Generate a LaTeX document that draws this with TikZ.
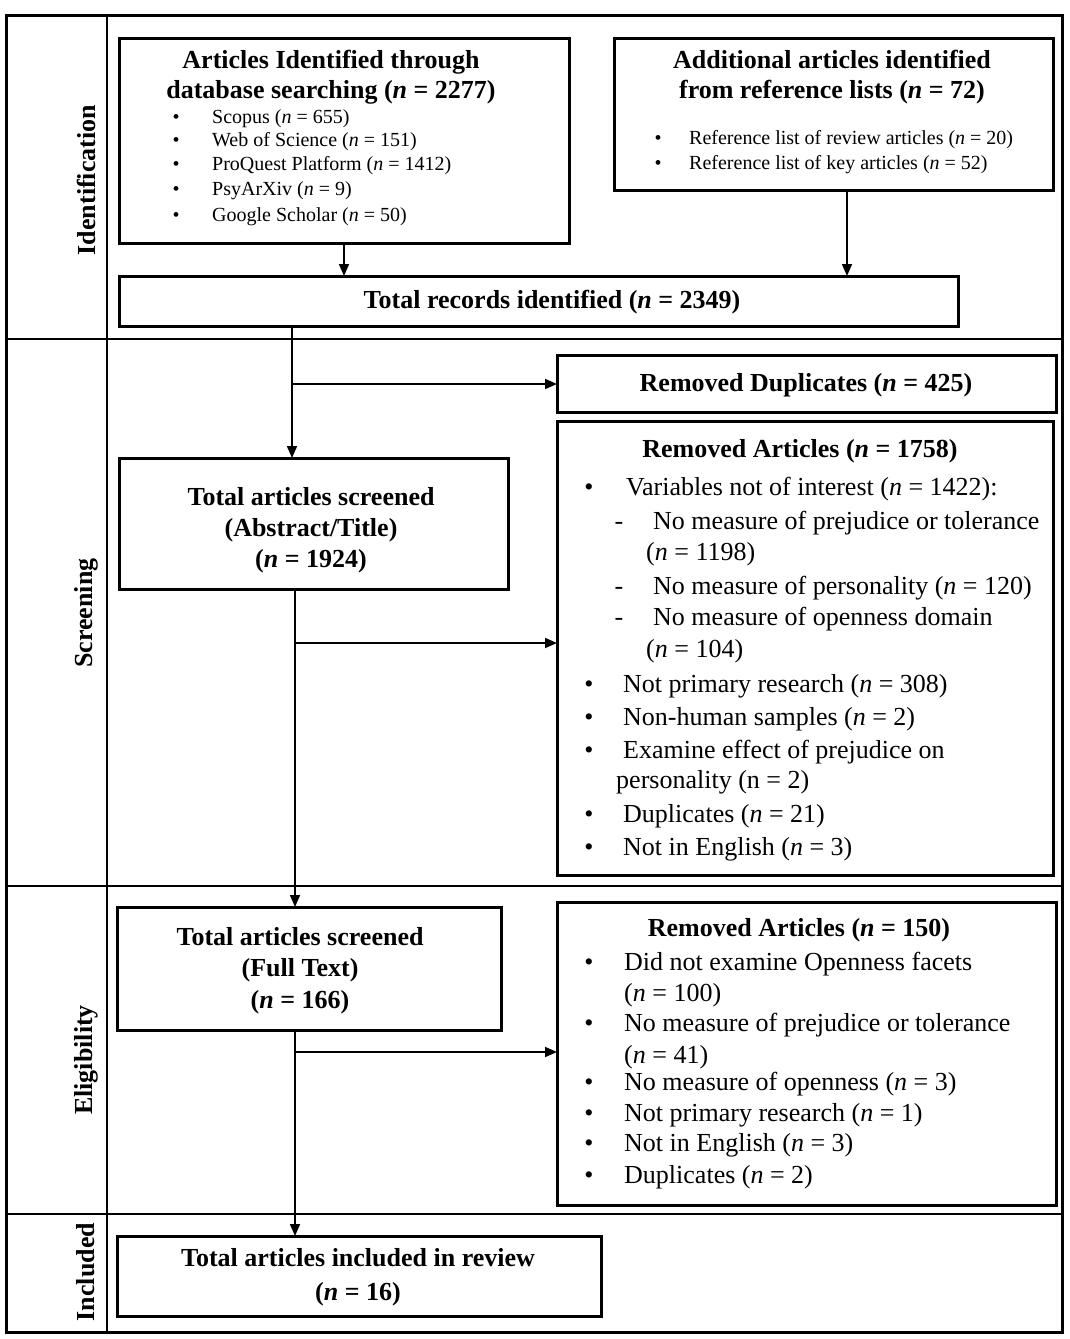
\documentclass[tikz,border=0pt]{standalone}
\usepackage{fontspec}
\setmainfont{Liberation Serif}
\usetikzlibrary{arrows.meta}
\begin{document}
\begin{tikzpicture}[x=1pt,y=-1pt,
  box/.style={draw, line width=3pt, inner sep=0pt, outer sep=0pt, anchor=north west},
  title/.style={font=\fontsize{26}{30}\selectfont\bfseries, anchor=base, inner sep=0pt},
  body/.style={font=\fontsize{26}{30}\selectfont, anchor=base west, inner sep=0pt},
  small/.style={font=\fontsize{20}{24}\selectfont, anchor=base west, inner sep=0pt},
  bul/.style={font=\fontsize{26}{30}\selectfont, anchor=base, inner sep=0pt},
  sbul/.style={font=\fontsize{20}{24}\selectfont, anchor=base, inner sep=0pt},
  arr/.style={line width=1.7pt, -{Triangle[length=12pt,width=10pt]}},
  lane/.style={font=\fontsize{26}{30}\selectfont\bfseries, rotate=90, inner sep=0pt},
  frame/.style={line width=3pt},
  divider/.style={line width=2.2pt}
]
\fill[white] (0,0) rectangle (1070,1339);
\useasboundingbox (0,0) rectangle (1070,1339);

% frame and lanes
\draw[frame] (6,15) rectangle (1062,1332);
\draw[divider] (107,15) -- (107,1332);
\draw[divider] (6,339) -- (1062,339);
\draw[divider] (6,886) -- (1062,886);
\draw[divider] (6,1214) -- (1062,1214);
\node[lane] (L1) at (86,180) {Identification};
\node[lane] (L2) at (86,613) {Screening};
\node[lane] (L3) at (86,1060) {Eligibility};
\node[lane] (L4) at (86,1272) {Included};

% boxes
\node[box, minimum width=450pt, minimum height=205pt] (A) at (119,38) {};
\node[box, minimum width=439pt, minimum height=152pt] (B) at (614,38) {};
\node[box, minimum width=839pt, minimum height=50pt] (T) at (119,276) {};
\node[box, minimum width=499pt, minimum height=57pt] (RD) at (557,355) {};
\node[box, minimum width=496pt, minimum height=454pt] (RA) at (557,421) {};
\node[box, minimum width=389pt, minimum height=131pt] (S) at (119,458) {};
\node[box, minimum width=384pt, minimum height=123pt] (F) at (117,907) {};
\node[box, minimum width=499pt, minimum height=303pt] (R2) at (557,902) {};
\node[box, minimum width=484pt, minimum height=80pt] (I) at (117,1236) {};

% box A text
\node[title] (a1) at (331,68) {Articles Identified through};
\node[title] (a2) at (331,98) {database searching (\textit{n} = 2277)};
\node[sbul] (ab1) at (176,123) {•};
\node[sbul] (ab2) at (176,146) {•};
\node[sbul] (ab3) at (176,170) {•};
\node[sbul] (ab4) at (176,195) {•};
\node[sbul] (ab5) at (176,221) {•};
\node[small] (a3) at (212,123) {Scopus (\textit{n} = 655)};
\node[small] (a4) at (212,146) {Web of Science (\textit{n} = 151)};
\node[small] (a5) at (212,170) {ProQuest Platform (\textit{n} = 1412)};
\node[small] (a6) at (212,195) {PsyArXiv (\textit{n} = 9)};
\node[small] (a7) at (212,221) {Google Scholar (\textit{n} = 50)};

% box B text
\node[title] (b1) at (832,68) {Additional articles identified};
\node[title] (b2) at (832,98) {from reference lists (\textit{n} = 72)};
\node[sbul] (bb1) at (658,144) {•};
\node[sbul] (bb2) at (658,169) {•};
\node[small] (b3) at (689,144) {Reference list of review articles (\textit{n} = 20)};
\node[small] (b4) at (689,169) {Reference list of key articles (\textit{n} = 52)};

% total
\node[title] (t1) at (552,308) {Total records identified (\textit{n} = 2349)};

% removed duplicates
\node[title] (rd1) at (806,391) {Removed Duplicates (\textit{n} = 425)};

% removed articles 1758
\node[title] (ra0) at (800,457) {Removed Articles (\textit{n} = 1758)};
\node[bul] (rab1) at (589,495) {•};
\node[body] (ra1) at (626,495) {Variables not of interest (\textit{n} = 1422):};
\node[bul] (rad1) at (619,529) {-};
\node[body] (ra2) at (653,529) {No measure of prejudice or tolerance};
\node[body] (ra3) at (646,560) {(\textit{n} = 1198)};
\node[bul] (rad2) at (619,594) {-};
\node[body] (ra4) at (653,594) {No measure of personality (\textit{n} = 120)};
\node[bul] (rad3) at (619,625) {-};
\node[body] (ra5) at (653,625) {No measure of openness domain};
\node[body] (ra6) at (646,657) {(\textit{n} = 104)};
\node[bul] (rab2) at (589,692) {•};
\node[body] (ra7) at (623,692) {Not primary research (\textit{n} = 308)};
\node[bul] (rab3) at (589,725) {•};
\node[body] (ra8) at (623,725) {Non-human samples (\textit{n} = 2)};
\node[bul] (rab4) at (589,758) {•};
\node[body] (ra9) at (623,758) {Examine effect of prejudice on};
\node[body] (ra10) at (616,788) {personality (n = 2)};
\node[bul] (rab5) at (589,822) {•};
\node[body] (ra11) at (623,822) {Duplicates (\textit{n} = 21)};
\node[bul] (rab6) at (589,855) {•};
\node[body] (ra12) at (623,855) {Not in English (\textit{n} = 3)};

% screened abstract/title
\node[title] (s1) at (311,505) {Total articles screened};
\node[title] (s2) at (311,536) {(Abstract/Title)};
\node[title] (s3) at (311,567) {(\textit{n} = 1924)};

% full text
\node[title] (f1) at (300,945) {Total articles screened};
\node[title] (f2) at (300,976) {(Full Text)};
\node[title] (f3) at (300,1008) {(\textit{n} = 166)};

% removed articles 150
\node[title] (r0) at (799,936) {Removed Articles (\textit{n} = 150)};
\node[bul] (rb1) at (589,970) {•};
\node[body] (r1) at (624,970) {Did not examine Openness facets};
\node[body] (r2) at (624,1001) {(\textit{n} = 100)};
\node[bul] (rb2) at (589,1031) {•};
\node[body] (r3) at (624,1031) {No measure of prejudice or tolerance};
\node[body] (r4) at (624,1063) {(\textit{n} = 41)};
\node[bul] (rb3) at (589,1090) {•};
\node[body] (r5) at (624,1090) {No measure of openness (\textit{n} = 3)};
\node[bul] (rb4) at (589,1121) {•};
\node[body] (r6) at (624,1121) {Not primary research (\textit{n} = 1)};
\node[bul] (rb5) at (589,1151) {•};
\node[body] (r7) at (624,1151) {Not in English (\textit{n} = 3)};
\node[bul] (rb6) at (589,1183) {•};
\node[body] (r8) at (624,1183) {Duplicates (\textit{n} = 2)};

% included
\node[title] (i1) at (358,1266) {Total articles included in review};
\node[title] (i2) at (358,1300) {(\textit{n} = 16)};

% connectors
\coordinate (xa) at (344,0);
\coordinate (xb) at (847,0);
\coordinate (x1) at (292,0);
\coordinate (x2) at (295,0);
\coordinate (j1) at (292,384);
\coordinate (j2) at (295,643);
\coordinate (j3) at (295,1052);
\draw[arr] (xa |- A.south) -- (xa |- T.north);
\draw[arr] (xb |- B.south) -- (xb |- T.north);
\draw[arr] (x1 |- T.south) -- (x1 |- S.north);
\draw[arr] (j1) -- (j1 -| RD.west);
\draw[arr] (x2 |- S.south) -- (x2 |- F.north);
\draw[arr] (j2) -- (j2 -| RA.west);
\draw[arr] (x2 |- F.south) -- (x2 |- I.north);
\draw[arr] (j3) -- (j3 -| R2.west);
\end{tikzpicture}
\end{document}
